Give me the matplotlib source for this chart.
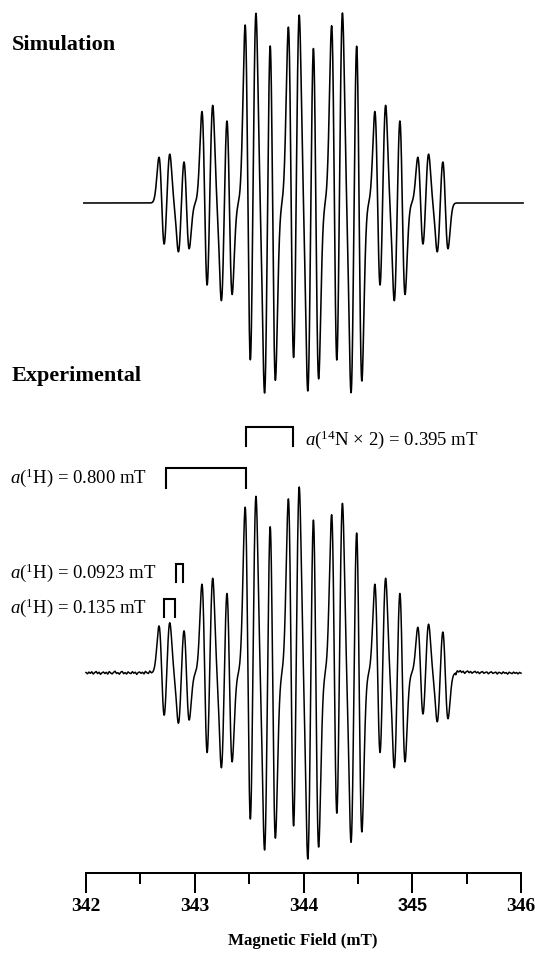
import numpy as np
import matplotlib
matplotlib.use("Agg")
import matplotlib.pyplot as plt

plt.rcParams["mathtext.fontset"] = "custom"
plt.rcParams["mathtext.rm"] = "Liberation Serif"
plt.rcParams["mathtext.it"] = "Liberation Serif:italic"
plt.rcParams["mathtext.bf"] = "Liberation Serif:bold"

# ---------------- data ----------------
center_field = 344.0          # mT
a_H_large = 0.800             # mT, one 1H
a_N = 0.395                   # mT, two 14N
n_N = 2
a_H_small = [0.135, 0.0923]   # mT, two further 1H
linewidth_pp = 0.05           # mT, peak-to-peak width

# relative intensity of the 7 line groups in the experimental trace
exp_group_scale = [1.06, 1.00, 0.96, 1.02, 0.92, 1.00, 1.03]

tick_major = [342, 343, 344, 345, 346]
tick_minor = [342.5, 343.5, 344.5, 345.5]
tick_labels = ["342", "343", "344", "345", "346"]

sim_max_height = 190          # peak height of simulation (px units of the panel)
exp_max_height = 186

# baseline noise of the experimental trace (px units)
noise_left = [0.5, -0.8, 0.9, -0.3, 1.2, -1.0, 0.4, 1.5, -0.6, 0.8, -1.3, 0.2,
              1.0, -0.5, 0.7, -1.1, 1.4, 0.1, -0.9, 0.6, 1.8, -0.4, 0.3, -1.2,
              0.9, 1.5, -0.7, 0.4, -1.0, 1.1, 0.0, -0.6, 1.3, -0.2, 0.8, -1.4,
              0.5, 1.0, -0.3, 0.7, -0.9, 1.6, 0.2, -0.5, 2.0]
noise_right = [-1.5, 2.2, 1.0, 2.4, 0.6, 1.8, -0.4, 1.2, 2.0, 0.3, 1.5, -0.2,
               0.9, 1.7, 0.1, 1.1, -0.6, 0.8, 1.4, -0.3, 0.6, 1.0, -0.8, 0.5,
               1.2, -0.4, 0.3, 0.9, -1.0, 0.7, 0.2, -0.7, 1.1, -0.2, 0.4, -1.1,
               0.8, 0.0, -0.6, 0.9, -0.3, 0.5, -0.9, 0.6, -0.2]

# ---------------- spectrum from hyperfine couplings ----------------
def line_positions():
    pos = np.array([center_field])
    amp = np.array([1.0])
    pos = np.concatenate([pos - a_H_large / 2, pos + a_H_large / 2])
    amp = np.concatenate([amp, amp]) / 2
    n_coef = np.array([1, 2, 3, 2, 1], float)
    m = np.arange(-2, 3)
    pos = (pos[:, None] + m[None, :] * a_N).ravel()
    amp = (amp[:, None] * n_coef[None, :]).ravel()
    for a in a_H_small:
        pos = np.concatenate([pos - a / 2, pos + a / 2])
        amp = np.concatenate([amp, amp]) / 2
    return pos, amp

def spectrum(x, width, group_scale=None):
    pos, amp = line_positions()
    if group_scale is not None:
        gi = np.clip(np.round((pos - center_field) / a_N).astype(int) + 3, 0, 6)
        amp = amp * np.asarray(group_scale)[gi]
    sigma = width / 2
    u = (x[:, None] - pos[None, :]) / sigma
    y = (-u * np.exp(-u ** 2 / 2) * amp[None, :]).sum(axis=1)
    return y / y.max()

# ---------------- figure ----------------
W, H = 535, 956
PT = 72 / 100  # points per pixel
fig = plt.figure(figsize=(W / 100, H / 100), dpi=100)
ax_left, ax_right = 86, 521
spine_y = 873
ax = fig.add_axes([ax_left / W, (H - spine_y) / H, (ax_right - ax_left) / W, spine_y / H])
ax.set_xlim(342, 346)
ax.set_ylim(spine_y, 0)

serif = "Liberation Serif"

# simulation
xs = np.arange(341.98, 346.02, 0.001)
sim_base = 203
ax.plot(xs, sim_base - sim_max_height * spectrum(xs, linewidth_pp),
        color="black", lw=1.15, clip_on=False)

# experimental
nl, nr = len(noise_left), len(noise_right)
x_l = np.linspace(342.0, 342.60, nl, endpoint=False)
x_m = np.arange(342.60, 345.40, 0.001)
x_r = np.linspace(345.40, 346.0, nr)
xe = np.concatenate([x_l, x_m, x_r])
noise = np.concatenate([noise_left, np.zeros(len(x_m)), noise_right])
exp_base = 673
ax.plot(xe, exp_base - exp_max_height * spectrum(xe, linewidth_pp, exp_group_scale) - noise,
        color="black", lw=1.1, clip_on=False)

# axes styling
for s in ["top", "left", "right"]:
    ax.spines[s].set_visible(False)
ax.spines["bottom"].set_linewidth(2 * PT)
ax.set_yticks([])
ax.set_xticks(tick_major)
ax.set_xticks(tick_minor, minor=True)
ax.tick_params(axis="x", which="major", direction="out", length=20 * PT, width=2 * PT, pad=5 * PT)
ax.tick_params(axis="x", which="minor", direction="out", length=11 * PT, width=2 * PT)
ax.set_xticklabels(tick_labels)
for lab in ax.get_xticklabels():
    if lab.get_text() == "345":
        lab.set_fontfamily("Liberation Sans")
        lab.set_fontsize(13)
    else:
        lab.set_fontfamily(serif)
        lab.set_fontsize(14)
    lab.set_fontweight("bold")

# texts
fig.text(12 / W, 1 - 45 / H, "Simulation", family=serif, weight="bold", fontsize=16,
         ha="left", va="center")
fig.text(12 / W, 1 - 376 / H, "Experimental", family=serif, weight="bold", fontsize=16,
         ha="left", va="center")
fig.text(303 / W, 1 - 941 / H, "Magnetic Field (mT)", family=serif, weight="bold",
         fontsize=12.2, ha="center", va="center")

def px2mT(px):
    return 342 + (px - ax_left) / (ax_right - ax_left) * 4

def bracket(x0, x1, ytop, ybot, lw=1.5):
    ax.plot([px2mT(x0), px2mT(x0), px2mT(x1), px2mT(x1)], [ybot, ytop, ytop, ybot],
            color="black", lw=lw, clip_on=False, solid_joinstyle="miter")

fs = 13.5
bracket(246, 293, 427, 446)
fig.text(305 / W, 1 - 440 / H, r"$\mathit{a}(^{14}\mathrm{N}\,\times\,2)$ = 0.395 mT", family=serif,
         fontsize=fs, ha="left", va="center")
bracket(166, 246, 468, 488)
fig.text(10 / W, 1 - 478 / H, r"$\mathit{a}(^{1}\mathrm{H})$ = 0.800 mT", family=serif,
         fontsize=fs, ha="left", va="center")
bracket(175.5, 182.5, 564, 582)
fig.text(10 / W, 1 - 573 / H, r"$\mathit{a}(^{1}\mathrm{H})$ = 0.0923 mT", family=serif,
         fontsize=fs, ha="left", va="center")
bracket(163.5, 174.5, 599, 617)
fig.text(10 / W, 1 - 608 / H, r"$\mathit{a}(^{1}\mathrm{H})$ = 0.135 mT", family=serif,
         fontsize=fs, ha="left", va="center")

fig.savefig("out.png", dpi=100)
